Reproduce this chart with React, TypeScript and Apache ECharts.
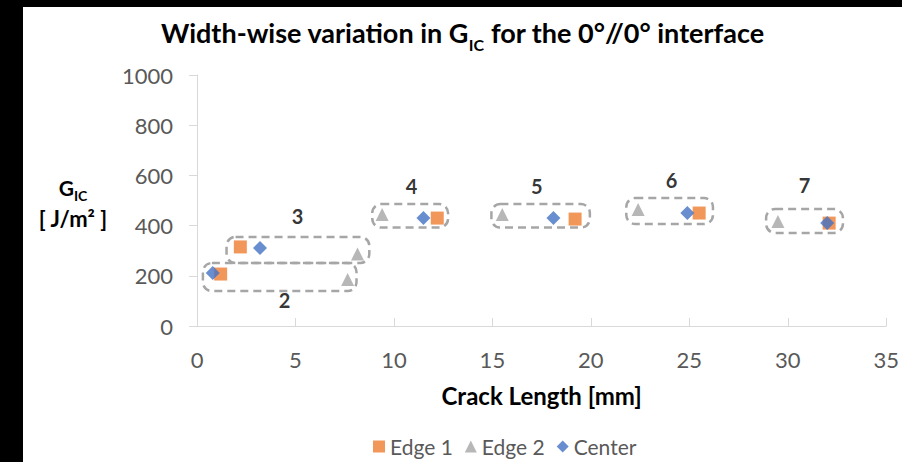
import React, { useEffect, useRef } from "react";
import * as echarts from "echarts";

// Series data: [crack length (mm), G_IC (J/m²)]
const edge1: number[][] = [
  [1.2, 207], [2.2, 315], [12.2, 430], [19.2, 426], [25.5, 450], [32.1, 410],
];
const edge2: number[][] = [
  [7.65, 185], [8.15, 287], [9.4, 444], [15.5, 444], [22.4, 464], [29.5, 416],
];
const center: number[][] = [
  [0.8, 211], [3.2, 311], [11.5, 430], [18.1, 430], [24.9, 450], [32.0, 410],
];
// Group boxes: [xMin, xMax, yMin, yMax]
const groupBoxes: number[][] = [
  [0.3, 8.1, 139, 251],
  [1.5, 8.75, 251, 355],
  [8.9, 12.75, 392, 486],
  [14.95, 19.95, 392, 486],
  [21.8, 26.2, 406, 510],
  [28.9, 32.8, 371, 466],
];
// Group labels: [label, x, y]
const groupLabelNames = ["2", "3", "4", "5", "6", "7"];
const groupLabelPos: number[][] = [
  [4.45, 104], [5.1, 438], [10.9, 558], [17.25, 558], [24.1, 582], [30.85, 562],
];
const seriesNames = ["Edge 1", "Edge 2", "Center"];
const xRange = [0, 35, 5];
const yRange = [0, 1000, 200];

const FONT = "Lato";

export default function App() {
  const ref = useRef<HTMLDivElement>(null);
  useEffect(() => {
    if (!ref.current) return;
    const chart = echarts.init(ref.current, undefined, { renderer: "svg" });
    chart.setOption({
      animation: false,
      backgroundColor: "#ffffff",
      textStyle: { fontFamily: FONT },
      title: {
        text: "{m|Width-wise variation in G}{s|IC}{m| for the 0°//0° interface}",
        left: "center",
        top: 0,
        textStyle: {
          rich: {
            m: { fontSize: 27, fontWeight: "bold", color: "#000", fontFamily: FONT, lineHeight: 34, verticalAlign: "bottom" },
            s: { fontSize: 16, fontWeight: "bold", color: "#000", fontFamily: FONT, lineHeight: 34, verticalAlign: "bottom", padding: [0, 0, -6, 0] },
          },
        },
      },
      grid: { left: 174, right: 15, top: 68, bottom: 136 },
      legend: {
        data: seriesNames,
        top: 424,
        left: 345,
        itemWidth: 12,
        itemHeight: 12,
        itemGap: 12,
        textStyle: { fontSize: 21, color: "#595959", fontFamily: FONT },
      },
      xAxis: {
        type: "value",
        min: xRange[0],
        max: xRange[1],
        interval: xRange[2],
        name: "Crack Length [mm]",
        nameLocation: "middle",
        nameGap: 57,
        nameTextStyle: { fontSize: 24, fontWeight: "bold", color: "#000", fontFamily: FONT },
        axisLine: { show: true, lineStyle: { color: "#D9D9D9", width: 1 } },
        axisTick: { show: true, inside: true, length: 8, lineStyle: { color: "#D9D9D9" } },
        axisLabel: { fontSize: 22, color: "#595959", margin: 22, fontFamily: FONT },
        splitLine: { show: false },
      },
      yAxis: {
        type: "value",
        min: yRange[0],
        max: yRange[1],
        interval: yRange[2],
        axisLine: { show: true, lineStyle: { color: "#D9D9D9", width: 1 } },
        axisTick: { show: true, inside: false, length: 8, lineStyle: { color: "#D9D9D9" } },
        axisLabel: {
          fontSize: 22,
          color: "#595959",
          margin: 24,
          fontFamily: FONT,
          formatter: (v: number) => String(v),
        },
        splitLine: { show: false },
      },
      graphic: [
        {
          type: "text",
          x: 50,
          y: 181,
          style: {
            text: "{m|G}{s|IC}",
            align: "center",
            verticalAlign: "middle",
            rich: {
              m: { fontSize: 21, fontWeight: "bold", fill: "#000", fontFamily: FONT, lineHeight: 20, verticalAlign: "bottom" },
              s: { fontSize: 14, fontWeight: "bold", fill: "#000", fontFamily: FONT, lineHeight: 20, verticalAlign: "bottom", padding: [0, 0, -4, 0] },
            },
          },
        },
        {
          type: "text",
          x: 50,
          y: 211,
          style: {
            text: "[ J/m² ]",
            align: "center",
            verticalAlign: "middle",
            font: `bold 22px ${FONT}`,
            fill: "#000",
          },
        },
      ],
      series: [
        {
          type: "custom",
          name: "groups",
          z: 1,
          silent: true,
          encode: { x: [0, 1], y: [2, 3] },
          data: groupBoxes,
          renderItem: (_params: any, api: any) => {
            const p1 = api.coord([api.value(0), api.value(3)]);
            const p2 = api.coord([api.value(1), api.value(2)]);
            return {
              type: "rect",
              shape: { x: p1[0], y: p1[1], width: p2[0] - p1[0], height: p2[1] - p1[1], r: 9 },
              style: { fill: "none", stroke: "#A6A6A6", lineWidth: 2.5, lineDash: [8, 5] },
            };
          },
        },
        {
          type: "scatter",
          name: "labels",
          z: 1,
          silent: true,
          symbolSize: 0,
          data: groupLabelNames.map((n, i) => ({ name: n, value: groupLabelPos[i] })),
          label: {
            show: true,
            position: "inside",
            formatter: (p: any) => p.name,
            fontSize: 20,
            fontWeight: "bold",
            color: "#000",
            fontFamily: FONT,
          },
        },
        {
          type: "scatter",
          name: seriesNames[0],
          z: 3,
          symbol: "rect",
          symbolSize: 13,
          itemStyle: { color: "#ED7D31" },
          data: edge1,
        },
        {
          type: "scatter",
          name: seriesNames[1],
          z: 3,
          symbol: "triangle",
          symbolSize: 13,
          itemStyle: { color: "#A5A5A5" },
          data: edge2,
        },
        {
          type: "scatter",
          name: seriesNames[2],
          z: 4,
          symbol: "diamond",
          symbolSize: 14,
          itemStyle: { color: "#4472C4" },
          data: center,
        },
      ],
    });
    return () => chart.dispose();
  }, []);
  return (
    <div style={{ position: "fixed", left: 0, top: 0, width: 902, height: 462, background: "#000" }}>
      <div ref={ref} style={{ position: "absolute", left: 23, top: 7, width: 879, height: 455 }} />
    </div>
  );
}
